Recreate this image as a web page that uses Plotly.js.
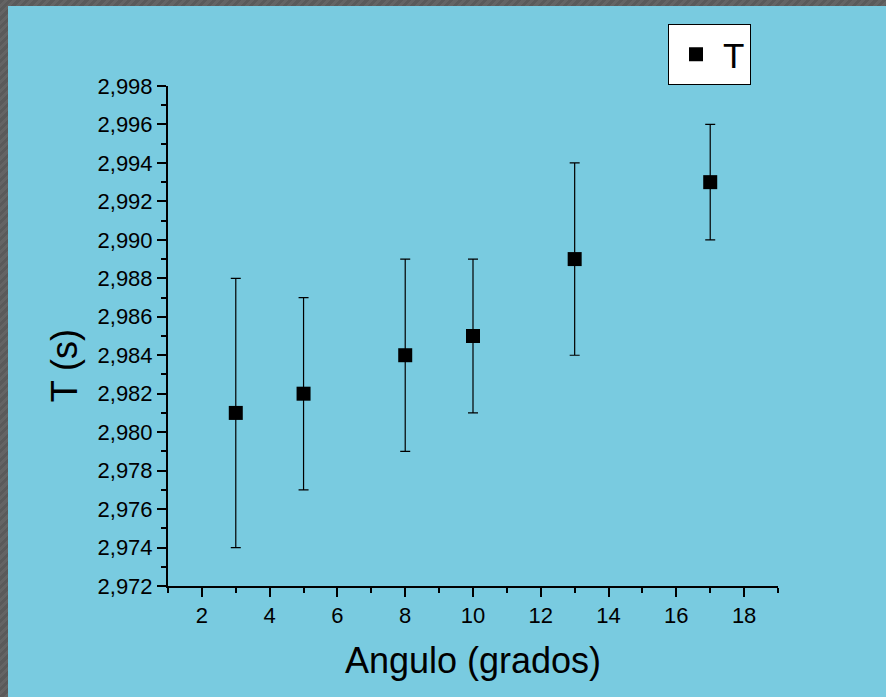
<!DOCTYPE html>
<html>
<head>
<meta charset="utf-8">
<script src="https://cdn.plot.ly/plotly-3.0.1.min.js"></script>
<style>
html, body { margin: 0; padding: 0; width: 886px; height: 697px; overflow: hidden;
  background: repeating-linear-gradient(135deg, #5a5a5a 0px, #5a5a5a 3px, #646464 3px, #646464 6px); }
#chart { position: absolute; left: 8px; top: 6px; width: 878px; height: 691px; }
</style>
</head>
<body>
<div id="chart"></div>
<script>
// Data
const angulo = [3, 5, 8, 10, 13, 17];
const periodo = [2.981, 2.982, 2.984, 2.985, 2.989, 2.993];
const errorT = [0.007, 0.005, 0.005, 0.004, 0.005, 0.003];
const seriesName = 'T';
const xTickVals = [2, 4, 6, 8, 10, 12, 14, 16, 18];

const FONT = 'Liberation Sans, Arial, sans-serif';
const BG = '#79cbe0';

const trace = {
  x: angulo,
  y: periodo,
  name: seriesName,
  type: 'scatter',
  mode: 'markers',
  marker: { symbol: 'square', size: 14, color: '#000000' },
  error_y: { type: 'data', array: errorT, visible: true, color: '#000000', thickness: 1.2, width: 5 },
  showlegend: true
};

const layout = {
  width: 878,
  height: 691,
  paper_bgcolor: BG,
  plot_bgcolor: BG,
  separators: ',.',
  font: { family: FONT, color: '#000000' },
  margin: { l: 160, r: 108, t: 80, b: 111, pad: 0 },
  xaxis: {
    range: [1, 19],
    tickvals: xTickVals,
    ticks: 'outside',
    ticklen: 9,
    tickwidth: 2,
    tickcolor: '#000',
    showline: true,
    linewidth: 2,
    linecolor: '#000',
    showgrid: false,
    zeroline: false,
    tickfont: { family: FONT, size: 22, color: '#000' },
    minor: { dtick: 1, tick0: 1, ticks: 'outside', ticklen: 5, tickwidth: 2, tickcolor: '#000', showgrid: false },
    title: { text: 'Angulo (grados)', font: { family: FONT, size: 36, color: '#000' }, standoff: 20 }
  },
  yaxis: {
    range: [2.972, 2.998],
    tick0: 2.972,
    dtick: 0.002,
    tickformat: '.3f',
    ticks: 'outside',
    ticklen: 9,
    tickwidth: 2,
    tickcolor: '#000',
    showline: true,
    linewidth: 2,
    linecolor: '#000',
    showgrid: false,
    zeroline: false,
    tickfont: { family: FONT, size: 22, color: '#000' },
    minor: { dtick: 0.001, tick0: 2.972, ticks: 'outside', ticklen: 5, tickwidth: 2, tickcolor: '#000', showgrid: false }
  },
  annotations: [{
    text: 'T (s)',
    xref: 'paper', yref: 'paper',
    x: -0.17, y: 0.44,
    xanchor: 'center', yanchor: 'middle',
    textangle: -90,
    showarrow: false,
    font: { family: FONT, size: 36, color: '#000' }
  }],
  showlegend: true,
  legend: {
    x: 0.8197, y: 1.124,
    xanchor: 'left', yanchor: 'top',
    bgcolor: '#ffffff',
    bordercolor: '#000000',
    borderwidth: 1,
    font: { family: FONT, size: 35, color: '#000' },
    itemwidth: 44
  }
};

Plotly.newPlot('chart', [trace], layout, { displayModeBar: false, staticPlot: true });
</script>
</body>
</html>
